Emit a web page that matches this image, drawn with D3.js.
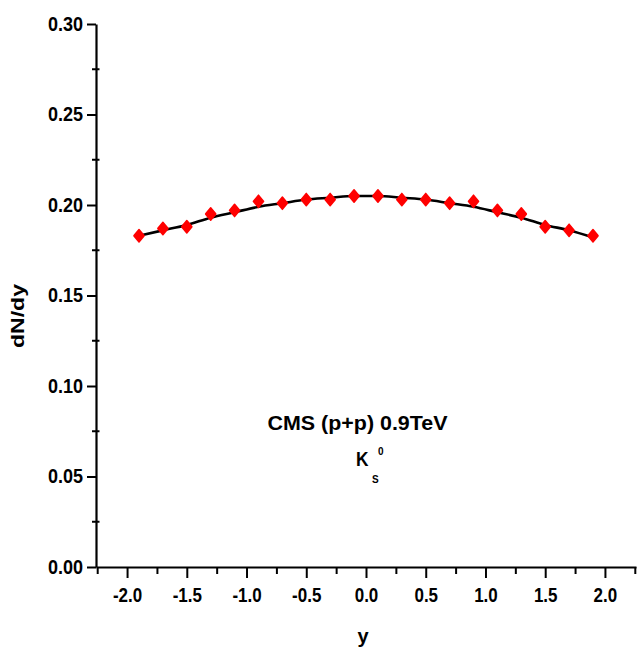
<!DOCTYPE html>
<html>
<head>
<meta charset="utf-8">
<script src="https://cdn.jsdelivr.net/npm/d3@7"></script>
<style>
  html, body { margin: 0; padding: 0; background: #fff; }
  svg { display: block; }
  text { font-family: "Liberation Sans", Arial, sans-serif; font-weight: bold; fill: #000; }
</style>
</head>
<body>
<svg id="chart" width="637" height="652"></svg>
<script>
// ---- data ----
const rapidity = [-1.9, -1.7, -1.5, -1.3, -1.1, -0.9, -0.7, -0.5, -0.3, -0.1,
                   0.1,  0.3,  0.5,  0.7,  0.9,  1.1,  1.3,  1.5,  1.7,  1.9];
const dNdy = [0.183, 0.187, 0.188, 0.195, 0.197, 0.202, 0.201, 0.203, 0.203, 0.205,
              0.205, 0.203, 0.203, 0.201, 0.202, 0.197, 0.195, 0.188, 0.186, 0.183];
const fitCurve = [0.183, 0.186, 0.189, 0.193, 0.196, 0.199, 0.201, 0.203, 0.204, 0.205,
                  0.205, 0.204, 0.203, 0.201, 0.199, 0.196, 0.193, 0.189, 0.186, 0.182];
const xTicks = [-2.0, -1.5, -1.0, -0.5, 0.0, 0.5, 1.0, 1.5, 2.0];
const xMinorTicks = [-2.25, -1.75, -1.25, -0.75, -0.25, 0.25, 0.75, 1.25, 1.75, 2.25];
const yTicks = [0.00, 0.05, 0.10, 0.15, 0.20, 0.25, 0.30];
const yMinorTicks = [0.025, 0.075, 0.125, 0.175, 0.225, 0.275];
const annotation = "CMS (p+p) 0.9TeV";

// ---- layout ----
const svg = d3.select("#chart");
const x = d3.scaleLinear().domain([-2.26, 2.26]).range([96, 636]);
const y = d3.scaleLinear().domain([0, 0.30]).range([567, 24]);
const K = 0.85;
function condense(sel, k) {
  sel.each(function() {
    const w = this.getComputedTextLength();
    d3.select(this).attr("textLength", w * k).attr("lengthAdjust", "spacingAndGlyphs");
  });
}

// x axis
const gx = svg.append("g").attr("transform", `translate(0,${y(0)})`)
  .call(d3.axisBottom(x).tickValues(xTicks).tickFormat(d3.format(".1f"))
        .tickSizeInner(11).tickSizeOuter(0).tickPadding(10));
svg.append("g").attr("transform", `translate(0,${y(0)})`)
  .call(d3.axisBottom(x).tickValues(xMinorTicks).tickFormat("")
        .tickSizeInner(7).tickSizeOuter(0))
  .call(g => g.select(".domain").remove());

// y axis
const gy = svg.append("g").attr("transform", `translate(${x.range()[0]},0)`)
  .call(d3.axisLeft(y).tickValues(yTicks).tickFormat(d3.format(".2f"))
        .tickSizeInner(9).tickSizeOuter(0).tickPadding(4));
svg.append("g").selectAll("line").data(yMinorTicks).join("line")
  .attr("x1", x.range()[0] - 4).attr("x2", x.range()[0] + 3.5)
  .attr("y1", d => y(d)).attr("y2", d => y(d))
  .attr("stroke", "#000").attr("stroke-width", 2);

svg.selectAll(".domain").attr("stroke", "#000").attr("stroke-width", 2.2);
svg.selectAll(".tick line").attr("stroke", "#000").attr("stroke-width", 2);
svg.selectAll(".tick text").attr("font-size", 20).attr("font-family", "Liberation Sans, Arial, sans-serif")
  .attr("font-weight", "bold").attr("fill", "#000");
gx.selectAll(".tick text").text(d => d < 0 ? "-" + d3.format(".1f")(-d) : d3.format(".1f")(d));
condense(gx.selectAll(".tick text"), K);
condense(gy.selectAll(".tick text"), 0.9);

// fit curve
const line = d3.line().x((d, i) => x(rapidity[i])).y(d => y(d)).curve(d3.curveMonotoneX);
svg.append("path").datum(fitCurve).attr("d", line)
  .attr("fill", "none").attr("stroke", "#000").attr("stroke-width", 2.6);

// data markers
const sym = d3.symbol(d3.symbolSquare, 50);
svg.append("g").selectAll("path").data(dNdy).join("path")
  .attr("d", sym)
  .attr("transform", (d, i) => `translate(${x(rapidity[i])},${y(d)}) scale(1,1.2) rotate(45)`)
  .attr("fill", "#ff0000").attr("stroke", "#ff0000").attr("stroke-width", 1.6)
  .attr("stroke-linejoin", "round");

// axis titles
svg.append("text").attr("x", 363).attr("y", 643).attr("text-anchor", "middle")
  .attr("font-size", 20).text("y");
svg.append("text").attr("transform", "translate(24,316) rotate(-90)")
  .attr("text-anchor", "middle").attr("font-size", 19)
  .attr("textLength", 64).attr("lengthAdjust", "spacingAndGlyphs").text("dN/dy");

// annotation
svg.append("text").attr("x", 357.5).attr("y", 430).attr("text-anchor", "middle")
  .attr("font-size", 20).attr("textLength", 180).attr("lengthAdjust", "spacingAndGlyphs")
  .text(annotation);
svg.append("text").attr("x", 356).attr("y", 466).attr("font-size", 20)
  .attr("textLength", 12.5).attr("lengthAdjust", "spacingAndGlyphs").text("K");
svg.append("text").attr("x", 378).attr("y", 455).attr("font-size", 10).text("0");
svg.append("text").attr("x", 372).attr("y", 483).attr("font-size", 10).text("S");
</script>
</body>
</html>
